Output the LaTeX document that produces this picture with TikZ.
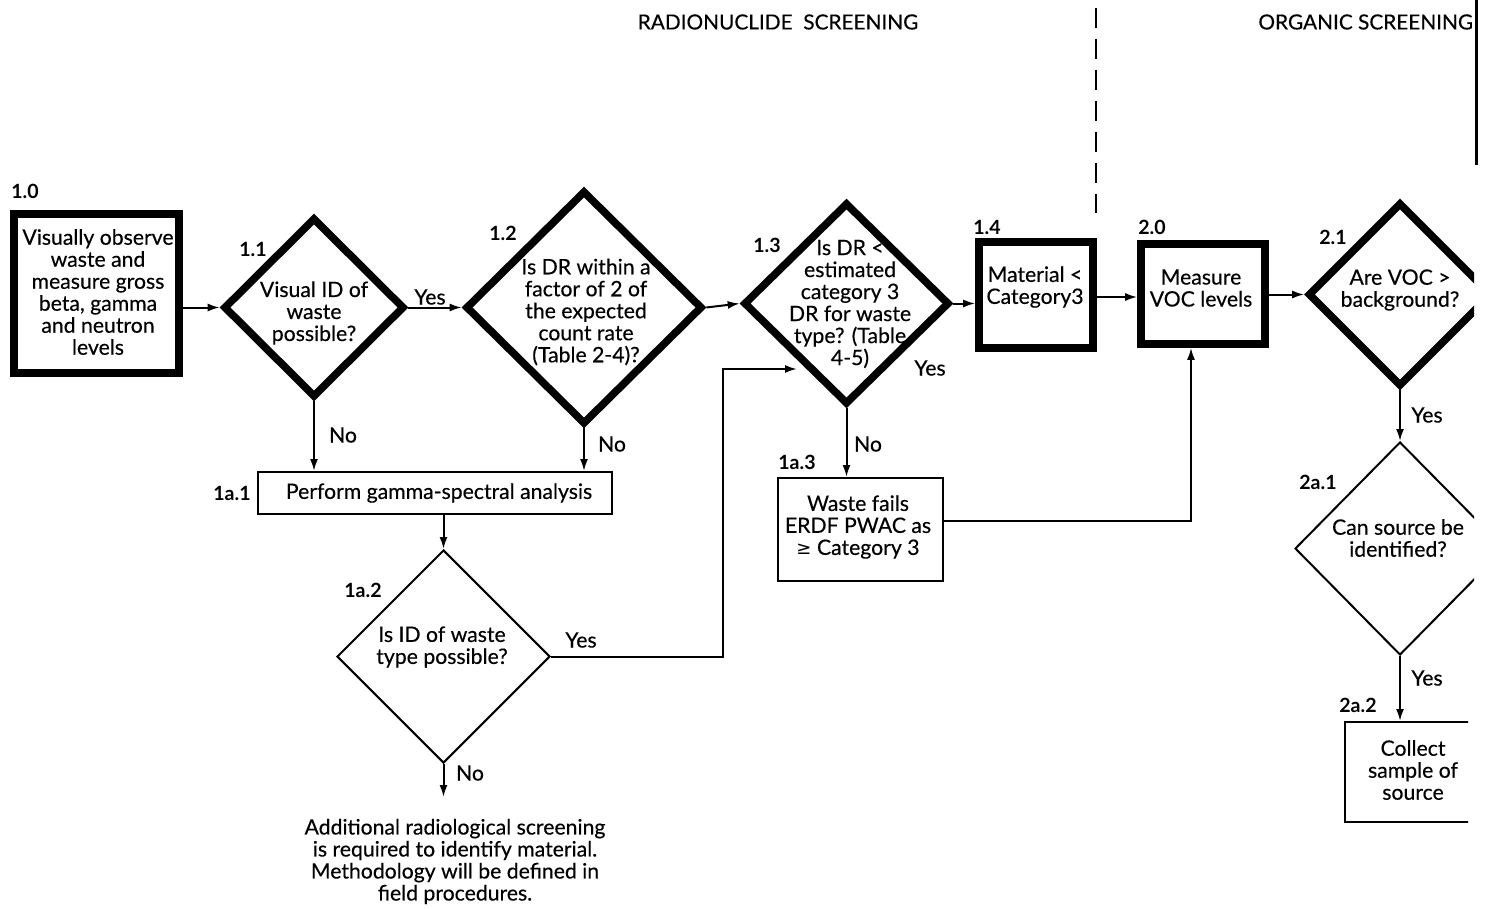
\documentclass[tikz,border=0pt]{standalone}
\usepackage{fontspec}
\setmainfont{Lato}[UprightFeatures={FakeBold=0.35}]
\newfontfamily\symfont{DejaVu Sans}
\usetikzlibrary{shapes.geometric,arrows.meta}

\begin{document}
\begin{tikzpicture}[x=0.5pt,y=-0.5pt,
  txt/.style={align=center,font=\fontsize{10.6}{11}\selectfont,inner sep=0pt},
  head/.style={font=\fontsize{10.4}{12}\selectfont,inner sep=0pt},
  tag/.style={font=\bfseries\fontsize{9.8}{10}\selectfont,inner sep=0pt},
  heavybox/.style={draw,rectangle,line width=3.8pt,inner sep=0pt},
  lightbox/.style={draw,rectangle,line width=1pt,inner sep=0pt},
  heavydia/.style={draw,diamond,line width=3.8pt,inner sep=0pt},
  lightdia/.style={draw,diamond,line width=1pt,inner sep=0pt},
  arr/.style={line width=1pt,-{Latex[length=6pt,width=4pt]}},
  wire/.style={line width=1pt}]

\useasboundingbox (0,0) rectangle (1487,909);

% right border of the sheet
\draw[line width=1.5pt] (1476,0) -- (1476,165);

\begin{scope}
\clip (0,0) rectangle (1474,909);

% section headings and divider
\node[head] (hrad) at (778,22) {RADIONUCLIDE\ \ SCREENING};
\node[head,anchor=west] (horg) at (1258,22) {ORGANIC SCREENING};
\draw[line width=1pt,dash pattern=on 10pt off 5.5pt] (1096,8) -- (1096,213);

% main row
\node[heavybox,minimum width=82.5pt,minimum height=79.5pt] (b10) at (96.5,293.5) {};
\node[heavydia,minimum width=90.5pt,minimum height=90pt] (d11) at (314,307.5) {};
\node[heavydia,minimum width=118.5pt,minimum height=117pt] (d12) at (584,307.5) {};
\node[heavydia,minimum width=103pt,minimum height=101pt] (d13) at (846.5,303.5) {};
\node[heavybox,minimum width=57pt,minimum height=53pt] (b14) at (1036,295) {};
\node[heavybox,minimum width=62pt,minimum height=50pt] (b20) at (1203,294) {};
\node[heavydia,minimum width=92pt,minimum height=92pt] (d21) at (1400,294.5) {};

% lower branches
\node[lightbox,minimum width=177pt,minimum height=21pt] (b1a1) at (435,493) {};
\node[lightdia,minimum width=106.5pt,minimum height=106.5pt] (d1a2) at (443.5,656.5) {};
\node[lightbox,minimum width=82.5pt,minimum height=51.5pt] (b1a3) at (860.5,529.5) {};
\node[lightdia,minimum width=105pt,minimum height=106.5pt] (d2a1) at (1400,548.5) {};
\begin{scope}
\clip (0,0) rectangle (1468,909);
\node[lightbox,minimum width=70pt,minimum height=50pt] (b2a2) at (1415,772) {};
\end{scope}

% texts inside the shapes
\node[txt] (t10) at (98,292) {Visually observe\\waste and\\measure gross\\beta, gamma\\and neutron\\levels};
\node[txt] (t11) at (314,313) {Visual ID of\\waste\\possible?};
\node[txt] (t12) at (586,312) {Is DR within a\\factor of 2 of\\the expected\\count rate\\(Table 2-4)?};
\node[txt] (t13) at (850,304) {Is DR <\\estimated\\category 3\\DR for waste\\type? (Table\\4-5)};
\node[txt] (t14) at (1035,287) {Material <\\Category3};
\node[txt] (t20) at (1201,288) {Measure\\VOC levels};
\node[txt] (t21) at (1400,290) {Are VOC >\\background?};
\node[txt] (t1a1) at (439,493) {Perform gamma-spectral analysis};
\node[txt] (t1a2) at (442,647) {Is ID of waste\\type possible?};
\node[txt] (t1a3) at (858,527) {Waste fails\\ERDF PWAC as\\{\symfont\fontsize{9}{11}\selectfont ≥} Category 3};
\node[txt] (t2a1) at (1398,538) {Can source be\\identified?};
\node[txt] (t2a2) at (1413,770) {Collect\\sample of\\source};
\node[txt] (tend) at (455,861.5) {Additional radiological screening\\is required to identify material.\\Methodology will be defined in\\field procedures.};

% step numbers
\node[tag] (n10) at (25,191) {1.0};
\node[tag] (n11) at (253,249) {1.1};
\node[tag] (n12) at (503,233) {1.2};
\node[tag] (n13) at (767,245) {1.3};
\node[tag] (n14) at (987,227) {1.4};
\node[tag] (n20) at (1152,227) {2.0};
\node[tag] (n21) at (1333,237) {2.1};
\node[tag] (n1a1) at (232,493) {1a.1};
\node[tag] (n1a2) at (363,590) {1a.2};
\node[tag] (n1a3) at (797,462) {1a.3};
\node[tag] (n2a1) at (1318,482) {2a.1};
\node[tag] (n2a2) at (1358,705) {2a.2};

% connectors
\draw[arr] (b10.east |- d11.west) -- (d11.west);
\draw[arr] (d11.east) -- (d12.west);
\draw[arr] (d12.east) -- (d13.west);
\draw[arr] (d13.east) -- (d13.east -| b14.west);
\draw[arr] (b14.east |- 0,297) -- (b20.west |- 0,297);
\draw[arr] (b20.east |- d21.west) -- (d21.west);
\draw[arr] (d21.south) -- (d2a1.north);
\draw[arr] (d2a1.south) -- (d2a1.south |- b2a2.north);
\draw[arr] (d11.south) -- (d11.south |- b1a1.north);
\draw[arr] (d12.south) -- (d12.south |- b1a1.north);
\draw[arr] (d1a2.north |- b1a1.south) -- (d1a2.north);
\draw[arr] (d13.south) -- (d13.south |- b1a3.north);
\coordinate (jog) at (723,369);
\coordinate (yin) at (797,369);
\draw[arr] (d1a2.east) -| (jog) -- (yin);
\coordinate (tail) at (443.5,797);
\draw[arr] (d1a2.south) -- (tail);
\draw[arr] ([yshift=4.25pt]b1a3.east) -| ([xshift=-6pt]b20.south);

% branch labels
\node[txt] (y11) at (430,297) {Yes};
\node[txt] (no11) at (343,435) {No};
\node[txt] (no12) at (612,444) {No};
\node[txt] (y13) at (930,368) {Yes};
\node[txt] (no13) at (868,444) {No};
\node[txt] (y1a2) at (581,640) {Yes};
\node[txt] (no1a2) at (470,773) {No};
\node[txt] (y21) at (1427,415) {Yes};
\node[txt] (y2a1) at (1427,678) {Yes};
\end{scope}
\end{tikzpicture}
\end{document}
